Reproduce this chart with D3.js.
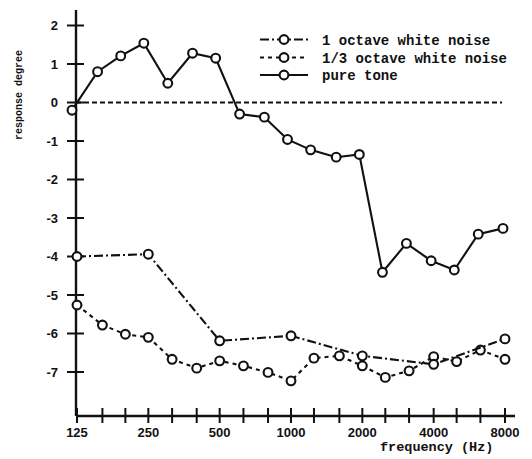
<!DOCTYPE html>
<html>
<head>
<meta charset="utf-8">
<script src="https://cdn.jsdelivr.net/npm/d3@7/dist/d3.min.js"></script>
<style>
  html, body { margin: 0; padding: 0; background: #fff; }
  svg { display: block; }
</style>
</head>
<body>
<script>
// One-third-octave band centre frequencies (Hz)
const thirdOctaveFreqs = [125, 160, 200, 250, 315, 400, 500, 630, 800, 1000,
  1250, 1600, 2000, 2500, 3150, 4000, 5000, 6300, 8000];
// Octave band centre frequencies (Hz)
const octaveFreqs = [125, 250, 500, 1000, 2000, 4000, 8000];

// Response degree per stimulus
const octaveNoise = [-4.0, -3.94, -6.19, -6.06, -6.58, -6.8, -6.14];
const thirdOctaveNoise = [-5.26, -5.78, -6.02, -6.10, -6.67, -6.90, -6.71, -6.84, -7.01, -7.23,
  -6.64, -6.58, -6.84, -7.14, -6.97, -6.60, -6.73, -6.43, -6.67];
const pureTone = [-0.2, 0.8, 1.21, 1.54, 0.5, 1.28, 1.15, -0.3, -0.38, -0.96,
  -1.23, -1.42, -1.35, -4.41, -3.66, -4.11, -4.35, -3.42, -3.27];

const xTickLabels = ["125", "250", "500", "1000", "2000", "4000", "8000"];
const yTicks = [2, 1, 0, -1, -2, -3, -4, -5, -6, -7];

const seriesNames = ["1 octave white noise", "1/3 octave white noise", "pure tone"];

const W = 532, H = 459;
const svg = d3.select("body").append("svg").attr("width", W).attr("height", H);

const x = d3.scaleLog().base(2).domain([125, 8000]).range([77, 505]);
const xTone = d3.scaleLog().base(2).domain([125, 8000]).range([72, 503]);
const y = d3.scaleLinear().domain([0, -7]).range([102.5, 372]);

const axisX = 76, axisY = 416;
const ink = "#111";
const tickFont = "'Liberation Sans', Arial, sans-serif";
const monoFont = "'Liberation Mono', 'DejaVu Sans Mono', monospace";

// Axes lines
svg.append("line").attr("x1", axisX).attr("x2", axisX).attr("y1", 10).attr("y2", axisY)
  .attr("stroke", ink).attr("stroke-width", 2.4);
svg.append("line").attr("x1", axisX).attr("x2", 515).attr("y1", axisY).attr("y2", axisY)
  .attr("stroke", ink).attr("stroke-width", 2.4);

// Y ticks crossing the axis
const yg = svg.append("g");
yg.selectAll("line").data(yTicks).join("line")
  .attr("x1", axisX - 9).attr("x2", axisX + 8)
  .attr("y1", d => y(d)).attr("y2", d => y(d))
  .attr("stroke", ink).attr("stroke-width", 2);
yg.selectAll("text").data(yTicks).join("text")
  .attr("x", 58).attr("y", d => y(d)).attr("dy", "0.35em")
  .attr("text-anchor", "end")
  .attr("font-family", tickFont).attr("font-weight", "bold").attr("font-size", 13)
  .attr("fill", ink)
  .text(d => String(d));

// X ticks at every 1/3 octave
const xg = svg.append("g");
xg.selectAll("line").data(thirdOctaveFreqs).join("line")
  .attr("x1", d => x(d)).attr("x2", d => x(d))
  .attr("y1", axisY - 8).attr("y2", axisY + 7)
  .attr("stroke", ink).attr("stroke-width", 2);
xg.selectAll("text").data(xTickLabels).join("text")
  .attr("x", d => x(+d)).attr("y", 437)
  .attr("text-anchor", "middle")
  .attr("font-family", tickFont).attr("font-weight", "bold").attr("font-size", 13)
  .attr("fill", ink)
  .text(d => d);

// Axis titles
svg.append("text")
  .attr("x", 380).attr("y", 451)
  .attr("font-family", monoFont).attr("font-weight", "bold").attr("font-size", 13.5)
  .attr("fill", ink)
  .text("frequency (Hz)");
svg.append("text")
  .attr("transform", "translate(22,95) rotate(-90)")
  .attr("text-anchor", "middle")
  .attr("font-family", monoFont).attr("font-weight", "bold").attr("font-size", 10)
  .attr("fill", ink)
  .text("response degree");

// Zero reference line
svg.append("line").attr("x1", axisX).attr("x2", 502).attr("y1", y(0)).attr("y2", y(0))
  .attr("stroke", ink).attr("stroke-width", 1.8).attr("stroke-dasharray", "5,3");

const dashes = ["9,3,2,3", "4,4", null];

function drawSeries(freqs, vals, xs, dash) {
  const pts = freqs.map((f, i) => [xs(f), y(vals[i])]);
  const line = d3.line();
  svg.append("path").attr("d", line(pts))
    .attr("fill", "none").attr("stroke", ink).attr("stroke-width", 2.1)
    .attr("stroke-dasharray", dash);
  svg.append("g").selectAll("circle").data(pts).join("circle")
    .attr("cx", d => d[0]).attr("cy", d => d[1]).attr("r", 4.4)
    .attr("fill", "#fff").attr("stroke", ink).attr("stroke-width", 2.1);
}

drawSeries(thirdOctaveFreqs, thirdOctaveNoise, x, dashes[1]);
drawSeries(octaveFreqs, octaveNoise, x, dashes[0]);
drawSeries(thirdOctaveFreqs, pureTone, xTone, dashes[2]);

// Legend
const legendRows = [39.5, 57.5, 75];
const lg = svg.append("g");
seriesNames.forEach((name, i) => {
  const yy = legendRows[i];
  lg.append("line").attr("x1", 260).attr("x2", 308).attr("y1", yy).attr("y2", yy)
    .attr("stroke", ink).attr("stroke-width", 2).attr("stroke-dasharray", dashes[i]);
  lg.append("circle").attr("cx", 284).attr("cy", yy).attr("r", 4.4)
    .attr("fill", "#fff").attr("stroke", ink).attr("stroke-width", 2.1);
  lg.append("text").attr("x", 322).attr("y", yy + 5)
    .attr("font-family", monoFont).attr("font-weight", "bold").attr("font-size", 14)
    .attr("fill", ink)
    .text(name);
});
</script>
</body>
</html>
